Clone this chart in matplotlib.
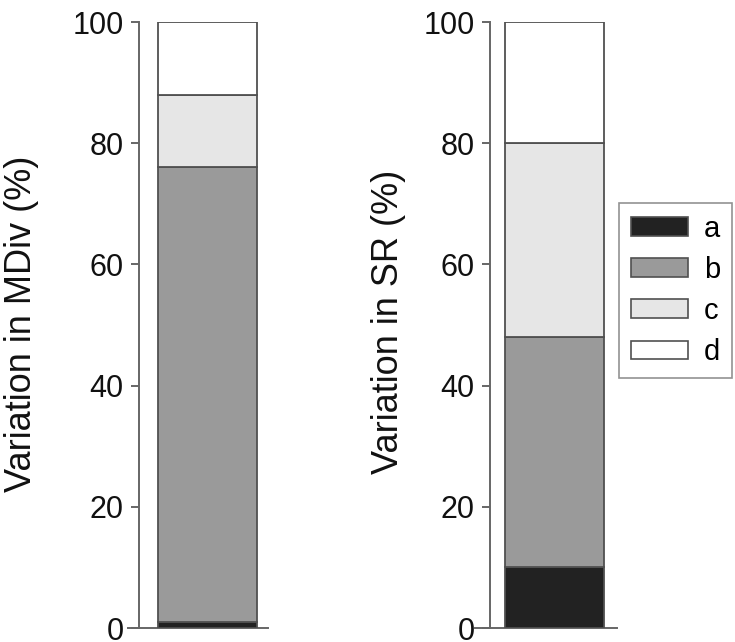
import matplotlib
matplotlib.use("Agg")
import matplotlib.pyplot as plt
from matplotlib.patches import Patch

plt.rcParams['font.family'] = ['Liberation Sans', 'DejaVu Sans']

components = ['a', 'b', 'c', 'd']
colors = ['#222222', '#9a9a9a', '#e6e6e6', '#ffffff']
mdiv_values = [1, 75, 12, 12]
sr_values = [10, 38, 32, 20]
panel_labels = ['Variation in MDiv (%)', 'Variation in SR (%)']
yticks = [0, 20, 40, 60, 80, 100]

W, H = 735, 642
fig = plt.figure(figsize=(W / 100, H / 100), dpi=100)

def px_axes(x0, x1, y_top, y_bot):
    return fig.add_axes([x0 / W, (H - y_bot) / H, (x1 - x0) / W, (y_bot - y_top) / H])

spine_col = '#666666'
edge_col = '#505050'

panels = [
    dict(x0=128, x1=268, spine_x=139, bar_l=158, bar_r=257, vals=mdiv_values, label=panel_labels[0]),
    dict(x0=475, x1=617, spine_x=490, bar_l=505, bar_r=604, vals=sr_values, label=panel_labels[1]),
]

axes = []
for p in panels:
    ax = px_axes(p['x0'], p['x1'], 22, 628)
    w = p['x1'] - p['x0']
    ax.set_xlim(0, 1)
    ax.set_ylim(0, 100)
    center = ((p['bar_l'] + p['bar_r']) / 2 - p['x0']) / w
    bw = (p['bar_r'] - p['bar_l']) / w
    bottom = 0
    for name, val, col in zip(components, p['vals'], colors):
        ax.bar(center, val, width=bw, bottom=bottom, color=col, edgecolor=edge_col,
               linewidth=1.3, label=name, zorder=3)
        bottom += val
    for s in ['top', 'right']:
        ax.spines[s].set_visible(False)
    ax.spines['left'].set_position(('axes', (p['spine_x'] - p['x0']) / w))
    for s in ['left', 'bottom']:
        ax.spines[s].set_color(spine_col)
        ax.spines[s].set_linewidth(1.4)
    ax.set_xticks([])
    ax.set_yticks(yticks)
    ax.tick_params(axis='y', length=6, width=1.4, color=spine_col, labelsize=22,
                   pad=5, labelcolor='#111111')
    ax.patch.set_visible(False)
    axes.append(ax)

fig.text(22 / W, 1 - 324 / H, panel_labels[0], rotation=90, ha='center', va='center',
         fontsize=26, color='#111111')
fig.text(388 / W, 1 - 322 / H, panel_labels[1], rotation=90, ha='center', va='center',
         fontsize=26, color='#111111')

handles = [Patch(facecolor=c, edgecolor=edge_col, linewidth=1.2) for c in colors]
leg = fig.legend(handles, components, loc='upper left',
                 bbox_to_anchor=(619 / W, 1 - 203 / H), fontsize=21,
                 frameon=True, fancybox=False, edgecolor='#777777',
                 handlelength=1.95, handleheight=0.6, handletextpad=0.55,
                 labelspacing=0.45, borderpad=0.4, borderaxespad=0)
leg.get_frame().set_linewidth(1.2)

fig.savefig('out.png', dpi=100)
